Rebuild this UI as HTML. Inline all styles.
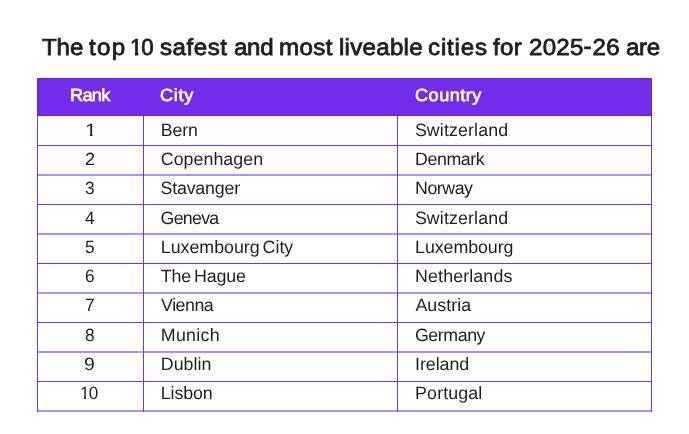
<!DOCTYPE html>
<html lang="en"><head><meta charset="utf-8"><title>Safest and most liveable cities 2025-26</title>
<style>
html,body{margin:0;padding:0;background:#fff;}
body{width:689px;height:434px;position:relative;overflow:hidden;font-family:"Liberation Sans", sans-serif;color:#1f1f1f;}
.t{text-rendering:geometricPrecision;position:absolute;white-space:nowrap;transform-origin:0 50%;display:block;}
.tt{font-size:23.2px;line-height:32px;-webkit-text-stroke:0.8px #1f1f1f;color:#1f1f1f;}
.hd{font-size:17.6px;line-height:25px;color:#fff;-webkit-text-stroke:0.6px #fff;}
.bd{font-size:17.8px;line-height:25px;}
.one{display:inline-block;}
h1{margin:0;padding:0;font-size:inherit;font-weight:normal;}
.hdr{position:absolute;left:37px;top:78px;width:615px;height:38px;box-sizing:border-box;background:#742CEB;border:1px solid #6622E0;}
.v{position:absolute;top:116px;width:1px;height:296px;background:#7331EC;}
.h{position:absolute;left:37px;width:615px;height:1px;background:#7331EC;}
.hb{position:absolute;left:37px;width:615px;height:2px;background:rgba(115,49,236,0.55);}
</style></head><body>
<div class="hdr"></div>
<div class="v" style="left:37px"></div>
<div class="v" style="left:143px"></div>
<div class="v" style="left:397px"></div>
<div class="v" style="left:651px"></div>
<div class="h" style="top:145px"></div>
<div class="h" style="top:204px"></div>
<div class="h" style="top:263px"></div>
<div class="h" style="top:322px"></div>
<div class="h" style="top:381px"></div>
<div class="hb" style="top:174px"></div>
<div class="hb" style="top:233px"></div>
<div class="hb" style="top:292px"></div>
<div class="hb" style="top:351px"></div>
<div class="hb" style="top:410px"></div>
<h1>
<span class="t tt" style="left:42.29px;top:30.71px;letter-spacing:-0.12px;transform:scaleX(1.0400)">The</span>
<span class="t tt" style="left:88.87px;top:30.71px;letter-spacing:1.25px;transform:scaleX(1.0400)">top</span>
<span class="t tt" style="left:129.59px;top:30.71px;letter-spacing:-1.09px;transform:scaleX(0.9600)"><span class="one" style="clip-path:polygon(-2px 0,12px 0,12px 20.31px,8.63px 20.31px,8.63px 32px,5.08px 32px,5.08px 20.31px,-2px 20.31px)">1</span>0</span>
<span class="t tt" style="left:160.19px;top:30.71px;letter-spacing:0.50px;transform:scaleX(1.0400)">safest</span>
<span class="t tt" style="left:233.71px;top:30.71px;letter-spacing:-0.28px;transform:scaleX(1.0400)">and</span>
<span class="t tt" style="left:278.86px;top:30.71px;letter-spacing:0.39px;transform:scaleX(1.0400)">most</span>
<span class="t tt" style="left:339.06px;top:30.71px;letter-spacing:0.25px;transform:scaleX(1.0400)">liveable</span>
<span class="t tt" style="left:427.91px;top:30.71px;letter-spacing:0.79px;transform:scaleX(1.0400)">cities</span>
<span class="t tt" style="left:493.37px;top:30.71px;letter-spacing:0.25px;transform:scaleX(1.0400)">for</span>
<span class="t tt" style="left:528.63px;top:30.71px;letter-spacing:0.21px;transform:scaleX(1.0400)">2025<span style="letter-spacing:1.01px;position:relative;top:-1.1px">-</span>26</span>
<span class="t tt" style="left:625.91px;top:30.71px;letter-spacing:-0.37px;transform:scaleX(1.0400)">are</span>
</h1>
<div class="tbl" role="table">
<div role="row">
<span class="t hd" style="left:69.69px;top:82.60px;letter-spacing:-0.68px;transform:scaleX(1.0300)">Rank</span>
<span class="t hd" style="left:160.36px;top:82.60px;letter-spacing:0.68px;transform:scaleX(1.0300)">City</span>
<span class="t hd" style="left:414.76px;top:82.60px;letter-spacing:0.48px;transform:scaleX(1.0300)">Country</span>
</div>
<div role="row">
<span class="t bd" style="left:84.89px;top:117.93px;letter-spacing:0.00px;transform:scaleX(1.1759)"><span class="one" style="clip-path:polygon(-2px 0,12px 0,12px 15.74px,6.40px 15.74px,6.40px 25px,4.13px 25px,4.13px 15.74px,-2px 15.74px)">1</span></span>
<span class="t bd" style="left:160.81px;top:117.93px;letter-spacing:-0.17px;transform:scaleX(1.0000)">Bern</span>
<span class="t bd" style="left:414.89px;top:117.93px;letter-spacing:0.13px;transform:scaleX(1.0000)">Switzerland</span>
</div>
<div role="row">
<span class="t bd" style="left:84.94px;top:147.16px;letter-spacing:0.00px;transform:scaleX(1.0307)">2</span>
<span class="t bd" style="left:160.77px;top:147.16px;letter-spacing:0.05px;transform:scaleX(1.0000)">Copenhagen</span>
<span class="t bd" style="left:415.11px;top:147.16px;letter-spacing:-0.42px;transform:scaleX(1.0000)">Denmark</span>
</div>
<div role="row">
<span class="t bd" style="left:85.38px;top:176.39px;letter-spacing:0.00px;transform:scaleX(0.9700)">3</span>
<span class="t bd" style="left:160.54px;top:176.39px;letter-spacing:-0.19px;transform:scaleX(1.0000)">Stavanger</span>
<span class="t bd" style="left:415.11px;top:176.39px;letter-spacing:-0.49px;transform:scaleX(1.0000)">Norway</span>
</div>
<div role="row">
<span class="t bd" style="left:85.38px;top:205.62px;letter-spacing:0.00px;transform:scaleX(0.9700)">4</span>
<span class="t bd" style="left:160.57px;top:205.62px;letter-spacing:-0.72px;transform:scaleX(1.0000)">Geneva</span>
<span class="t bd" style="left:414.89px;top:205.62px;letter-spacing:0.13px;transform:scaleX(1.0000)">Switzerland</span>
</div>
<div role="row">
<span class="t bd" style="left:85.38px;top:234.85px;letter-spacing:0.00px;transform:scaleX(0.9700)">5</span>
<span class="t bd" style="left:160.81px;top:234.85px;word-spacing:-2px;letter-spacing:-0.00px;transform:scaleX(1.0000)">Luxembourg City</span>
<span class="t bd" style="left:415.11px;top:234.85px;letter-spacing:-0.06px;transform:scaleX(1.0000)">Luxembourg</span>
</div>
<div role="row">
<span class="t bd" style="left:85.24px;top:264.08px;letter-spacing:0.00px;transform:scaleX(0.9700)">6</span>
<span class="t bd" style="left:160.82px;top:264.08px;word-spacing:-2px;letter-spacing:-0.12px;transform:scaleX(1.0000)">The Hague</span>
<span class="t bd" style="left:415.11px;top:264.08px;letter-spacing:0.13px;transform:scaleX(1.0000)">Netherlands</span>
</div>
<div role="row">
<span class="t bd" style="left:85.24px;top:293.31px;letter-spacing:0.00px;transform:scaleX(0.9700)">7</span>
<span class="t bd" style="left:161.10px;top:293.31px;letter-spacing:-0.48px;transform:scaleX(1.0000)">Vienna</span>
<span class="t bd" style="left:415.45px;top:293.31px;letter-spacing:0.04px;transform:scaleX(1.0000)">Austria</span>
</div>
<div role="row">
<span class="t bd" style="left:85.38px;top:322.54px;letter-spacing:0.00px;transform:scaleX(0.9700)">8</span>
<span class="t bd" style="left:160.81px;top:322.54px;letter-spacing:0.30px;transform:scaleX(1.0000)">Munich</span>
<span class="t bd" style="left:414.92px;top:322.54px;letter-spacing:-0.42px;transform:scaleX(1.0000)">Germany</span>
</div>
<div role="row">
<span class="t bd" style="left:84.49px;top:351.77px;letter-spacing:0.00px;transform:scaleX(1.0906)">9</span>
<span class="t bd" style="left:160.81px;top:351.77px;letter-spacing:0.03px;transform:scaleX(1.0000)">Dublin</span>
<span class="t bd" style="left:415.11px;top:351.77px;letter-spacing:-0.06px;transform:scaleX(1.0000)">Ireland</span>
</div>
<div role="row">
<span class="t bd" style="left:80.26px;top:381.00px;letter-spacing:-0.66px;transform:scaleX(0.9600)"><span class="one" style="clip-path:polygon(-2px 0,12px 0,12px 15.74px,6.40px 15.74px,6.40px 25px,4.13px 25px,4.13px 15.74px,-2px 15.74px)">1</span>0</span>
<span class="t bd" style="left:160.81px;top:381.00px;letter-spacing:-0.11px;transform:scaleX(1.0000)">Lisbon</span>
<span class="t bd" style="left:415.11px;top:381.00px;letter-spacing:0.14px;transform:scaleX(1.0000)">Portugal</span>
</div>
</div>
</body></html>
